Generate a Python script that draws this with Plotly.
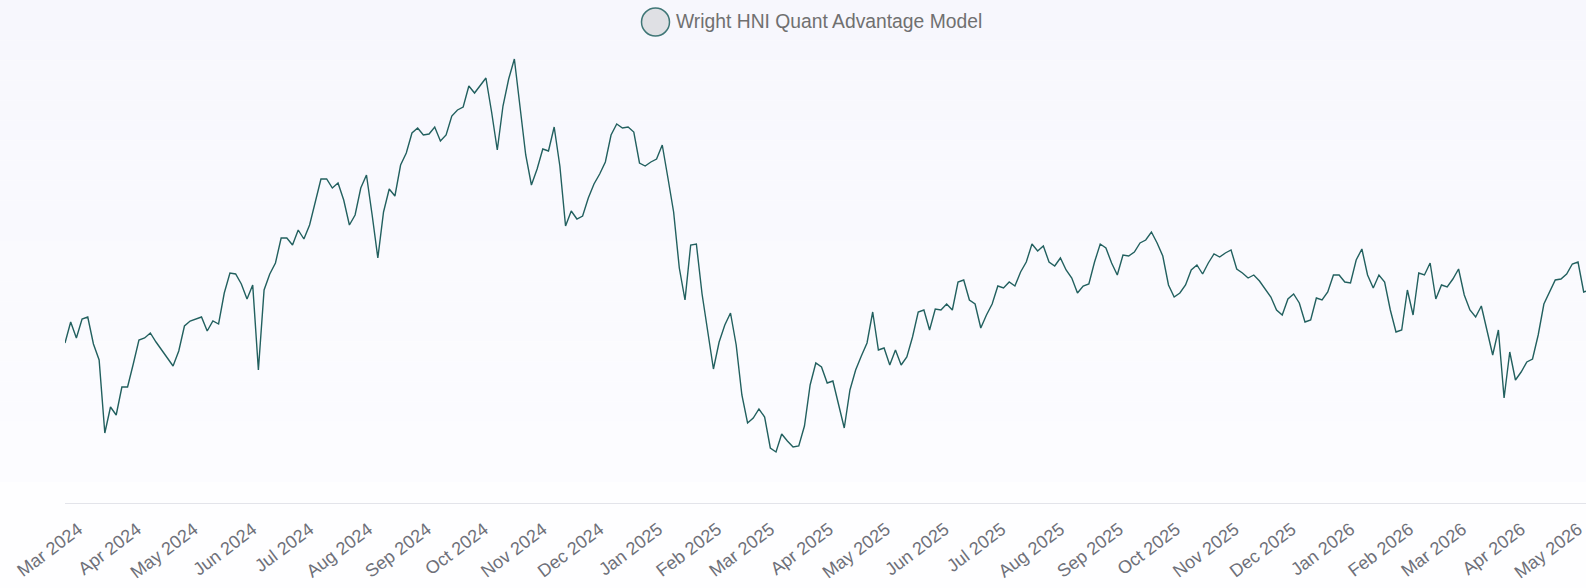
import pandas as pd
import plotly.graph_objects as go

# ---- data -------------------------------------------------------------
series_name = "Wright HNI Quant Advantage Model"
start_date = "2024-02-23"
sample_step = "3D"
x_range = ["2024-02-23", "2026-05-05 05:00"]

nav_values = [
    257, 278, 262, 281, 283, 256, 240, 167, 193, 185,
    213, 213, 236, 260, 262, 267, 258, 250, 242, 234,
    249, 274, 279, 281, 283, 269, 279, 276, 307, 327,
    326, 316, 301, 315, 230, 310, 326, 337, 362, 362,
    355, 370, 361, 375, 397, 421, 421, 412, 417, 400,
    375, 385, 412, 425, 385, 342, 388, 411, 404, 435,
    447, 467, 472, 465, 466, 473, 459, 465, 484, 490,
    493, 514, 507, 514, 522, 488, 450, 494, 521, 541,
    495, 445, 415, 431, 451, 449, 473, 434, 374, 389,
    381, 384, 402, 416, 426, 438, 465, 476, 472, 473,
    468, 437, 434, 438, 441, 455, 422, 388, 332, 300,
    355, 356, 306, 268, 231, 258, 275, 287, 255, 205,
    177, 182, 191, 183, 152, 148, 166, 159, 153, 154,
    174, 215, 237, 233, 217, 219, 197, 172, 210, 230,
    244, 257, 288, 250, 252, 235, 250, 235, 243, 263,
    288, 290, 270, 291, 290, 296, 290, 318, 320, 300,
    296, 272, 285, 296, 314, 312, 318, 314, 328, 338,
    356, 349, 354, 338, 334, 342, 330, 322, 307, 314,
    316, 338, 356, 352, 337, 325, 345, 344, 348, 357,
    360, 368, 357, 344, 315, 303, 307, 315, 330, 335,
    326, 337, 346, 343, 347, 350, 331, 327, 322, 325,
    319, 311, 303, 290, 285, 301, 306, 297, 278, 280,
    302, 300, 308, 325, 325, 318, 317, 340, 351, 325,
    312, 325, 318, 290, 268, 270, 310, 285, 327, 325,
    337, 301, 315, 313, 321, 331, 305, 290, 283, 294,
    270, 245, 270, 202, 248, 220, 228, 238, 241, 265,
    296, 308, 320, 321, 326, 336, 338, 308, 310,
]
dates = pd.date_range(start_date, periods=len(nav_values), freq=sample_step)

# ---- layout constants -------------------------------------------------
W, H = 1586, 588
ML, MR, MT, MB = 65, 0, 45, 85
LINE_COLOR = "#22605f"
TEXT_COLOR = "#6e7079"
FONT = "Liberation Sans, Arial, sans-serif"

plot_w = W - ML - MR
plot_h = H - MT - MB


def paper_x(px):
    return (px - ML) / plot_w


def paper_y(py):
    return (H - MB - py) / plot_h


fig = go.Figure(
    go.Scatter(
        x=dates,
        y=nav_values,
        mode="lines",
        name=series_name,
        line=dict(color=LINE_COLOR, width=1.4),
        showlegend=False,
        hoverinfo="x+y",
    )
)

# soft lavender-to-white background wash
shapes = []
bands = 24
top_rgb = (247, 247, 253)
bot_rgb = (252, 252, 255)
for k in range(bands):
    t = k / (bands - 1)
    rgb = tuple(round(a + (b - a) * t) for a, b in zip(top_rgb, bot_rgb))
    y_top = 482 * k / bands
    y_bot = 482 * (k + 1) / bands
    shapes.append(dict(
        type="rect", xref="paper", yref="paper", layer="below",
        x0=paper_x(0), x1=paper_x(W), y0=paper_y(y_bot), y1=paper_y(y_top),
        fillcolor="rgb(%d,%d,%d)" % rgb, line_width=0,
    ))

# legend marker (circle) and label
cx, cy = 655.5, 22
shapes.append(dict(
    type="circle", xref="paper", yref="paper",
    xsizemode="pixel", ysizemode="pixel",
    xanchor=paper_x(cx), yanchor=paper_y(cy),
    x0=-14, x1=14, y0=-14, y1=14,
    fillcolor="#dfe0e4", line=dict(color="#3f7676", width=1.5),
))

fig.update_layout(
    width=W, height=H,
    margin=dict(l=ML, r=MR, t=MT, b=MB, pad=0),
    paper_bgcolor="#fefeff",
    plot_bgcolor="rgba(0,0,0,0)",
    font=dict(family=FONT, color=TEXT_COLOR),
    shapes=shapes,
    annotations=[dict(
        text=series_name, xref="paper", yref="paper",
        x=paper_x(674), y=paper_y(21), xanchor="left", yanchor="middle",
        showarrow=False, font=dict(size=19.3, color="#707070", family=FONT),
    )],
    showlegend=False,
    xaxis=dict(
        type="date",
        range=x_range,
        tick0="2024-03-01",
        dtick="M1",
        tickformat="%b %Y",
        tickangle=-37,
        tickfont=dict(size=18, color=TEXT_COLOR, family=FONT),
        ticklabelstandoff=8,
        showgrid=False,
        zeroline=False,
        showline=True,
        linecolor="#e3e4ea",
        linewidth=1,
        ticks="",
    ),
    yaxis=dict(
        visible=False,
        range=[97, 555],
        showgrid=False,
        zeroline=False,
    ),
)

fig.write_html("out.html")
